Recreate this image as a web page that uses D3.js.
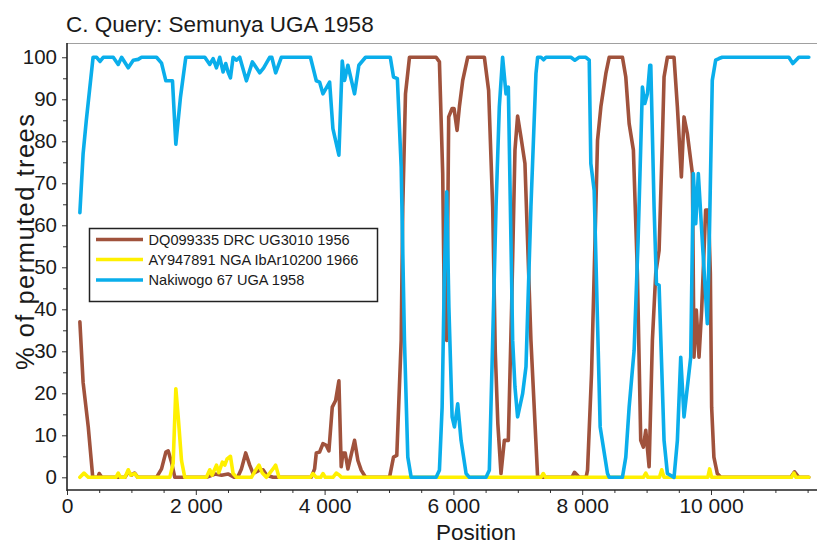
<!DOCTYPE html>
<html><head><meta charset="utf-8">
<script src="https://cdn.jsdelivr.net/npm/d3@7"></script>
<style>
body{margin:0;background:#fff}
svg{display:block}
text{font-family:Arial,"Liberation Sans",Helvetica,sans-serif;fill:#1a1a1a}
</style>
</head><body>
<svg id="chart" width="817" height="544"></svg>
<script>
// ---------- data ----------
const titleText = "C. Query: Semunya UGA 1958";
const xTitle = "Position";
const yTitle = "% of permuted trees";
const seriesNames = ["DQ099335 DRC UG3010 1956", "AY947891 NGA IbAr10200 1966", "Nakiwogo 67 UGA 1958"];
const seriesColors = ["#a0523c", "#fff000", "#0aaeeb"];
const xTickValues = [0, 2000, 4000, 6000, 8000, 10000];
const yTickValues = [0, 10, 20, 30, 40, 50, 60, 70, 80, 90, 100];

// [position, % of permuted trees]
const brownPoints = [[200,37],[250,22.6],[330,12],[400,0],[480,0],[500,0.9],[540,0],[900,0],[950,1.3],[1000,0.5],[1050,1],[1100,0],[1390,0],[1468,2],[1535,6],[1571,6.3],[1623,3.6],[1674,0],[2165,0],[2300,0.8],[2400,0.5],[2500,0.8],[2600,0],[2650,0],[2708,2],[2775,5.8],[2837,2.9],[2889,0.9],[2992,1.7],[3044,1.8],[3100,0.5],[3200,0],[3793,0],[3845,2],[3871,5.8],[3922,6],[3974,8],[4026,7.6],[4067,6.3],[4119,16.7],[4171,18.3],[4222,23],[4258,2.5],[4284,5.8],[4320,5.8],[4362,2],[4465,8.8],[4517,4],[4568,1.7],[4636,0],[5008,0],[5070,4.8],[5121,5.2],[5189,32.6],[5214,64.4],[5256,91.3],[5318,100],[5732,100],[5783,98.9],[5834,72.3],[5860,38.2],[5896,32.6],[5927,85.8],[5980,87.8],[6010,87.8],[6057,82.6],[6093,88.2],[6145,94.5],[6222,100],[6481,100],[6547,92.1],[6610,64.4],[6650,30],[6690,12.8],[6739,0.9],[6791,8.8],[6853,8.8],[6904,40.5],[6956,77.9],[6997,86],[7049,81],[7111,74.7],[7204,32.6],[7308,0],[7840,0],[7880,1.2],[7953,0],[8060,0],[8083,1.7],[8145,24.7],[8186,48.5],[8238,80.2],[8290,88.2],[8367,96.1],[8419,100],[8625,100],[8677,95.3],[8729,84.2],[8795,77.9],[8857,48.5],[8909,8.8],[8950,7.2],[8987,11.2],[9039,2.5],[9090,32.6],[9142,48.5],[9194,54],[9245,80.2],[9271,95.3],[9323,100],[9426,100],[9478,88.2],[9540,71.5],[9581,85.8],[9633,81.8],[9711,72.3],[9736,28.6],[9772,39.8],[9814,28.6],[9855,39.8],[9917,63.6],[9960,63.6],[9990,48.5],[10010,16.7],[10045,4.8],[10098,0.9],[10150,0],[11240,0],[11297,1.3],[11364,0],[11519,0]];

const yellowPoints = [[200,0],[264,1],[330,0],[760,0],[795,1],[830,0],[900,0],[951,1.8],[990,0.5],[1050,0.9],[1100,0],[1597,0],[1648,3.3],[1690,21.1],[1731,13.6],[1778,4],[1829,0],[2165,0],[2217,1.8],[2253,0.5],[2321,2.9],[2357,1.1],[2413,3.6],[2450,2.9],[2486,4.4],[2538,5],[2579,0.9],[2631,0],[2863,0],[2941,2],[2982,2.9],[3033,1],[3096,0],[3199,2],[3240,2.9],[3292,0],[3780,0],[3819,0.9],[3870,0],[3940,0],[3974,0.9],[4010,0],[4130,0],[4181,1],[4230,0.5],[4260,0],[7360,0],[7395,0.9],[7430,0],[8950,0],[8987,1],[9020,0],[9200,0],[9235,1.8],[9270,0],[9950,0],[9979,2],[10010,0],[11250,0],[11287,1],[11320,0],[11519,0]];

const bluePoints = [[200,63],[250,77],[300,85],[405,100],[460,100],[512,99],[563,100],[718,100],[795,98.3],[848,100],[951,97.5],[1029,99.3],[1105,99.5],[1158,100],[1390,100],[1468,98.6],[1535,94.4],[1638,94.4],[1690,79.3],[1762,90.5],[1814,96.5],[1845,100],[2140,100],[2217,98.3],[2269,99.7],[2321,97.5],[2372,100],[2424,96.5],[2465,98.5],[2501,96.5],[2538,95.1],[2579,100],[2631,99.3],[2682,100],[2786,94.4],[2879,98.9],[2992,96.3],[3054,97.5],[3147,100],[3180,100],[3240,96.3],[3328,100],[3780,100],[3871,94.4],[3922,94.1],[3974,91.3],[4078,94.1],[4129,83],[4222,76.7],[4274,99.1],[4310,94.5],[4362,98.1],[4465,91.3],[4532,98.1],[4636,100],[5020,100],[5070,95.3],[5130,94.9],[5189,73.9],[5240,32.6],[5292,4.8],[5344,0],[5732,0],[5783,1.7],[5825,16.7],[5860,48.5],[5896,68],[5930,40.5],[5980,14.4],[6016,12],[6067,17.5],[6119,8.8],[6197,0.9],[6248,0],[6507,0],[6558,1.7],[6610,32.6],[6662,64.4],[6713,88.2],[6764,100],[6817,91.3],[6853,92.9],[6920,32.6],[6956,21.5],[6997,14.4],[7075,19.9],[7127,26.3],[7204,64.4],[7282,96.1],[7308,100],[7360,100],[7400,99.4],[7437,100],[7824,100],[7886,99.3],[7953,100],[8057,100],[8109,99.3],[8134,74.7],[8186,68.3],[8279,12],[8393,0.9],[8419,0],[8625,0],[8677,4.8],[8729,16.7],[8806,30.2],[8868,56.4],[8935,92.9],[8972,89],[9013,91.3],[9050,98.1],[9065,98.1],[9116,64.4],[9153,46.1],[9194,45.7],[9271,8.8],[9323,0.9],[9426,0],[9478,8.8],[9530,28.6],[9581,14.4],[9685,28.6],[9726,72.3],[9763,60.4],[9803,72.3],[9870,55],[9943,36.6],[9969,52.4],[10020,94.5],[10072,99.3],[10124,99.7],[10175,100],[11209,100],[11271,98.5],[11364,100],[11519,100]];

const allSeries = [brownPoints, yellowPoints, bluePoints];

// ---------- layout ----------
const svg = d3.select("#chart");
const mLeft = 67, mRight = 817, mTop = 43, mBottom = 490;

const x = d3.scaleLinear().domain([0, 11646]).range([mLeft, mRight]);
const y = d3.scaleLinear().domain([-3.02, 103.4]).range([mBottom, mTop]);

const fmt = d => d3.format(",")(d).replace(/,/g, " ");

// frame
svg.append("line").attr("x1", mLeft).attr("x2", mRight).attr("y1", mTop + 0.5).attr("y2", mTop + 0.5)
  .attr("stroke", "#a0a0a0").attr("stroke-width", 1.2);

// y axis minor + major ticks
const yMinor = d3.axisLeft(y).tickValues(d3.range(5, 100, 10)).tickSize(4).tickFormat("");
const yMajor = d3.axisLeft(y).tickValues(yTickValues).tickSize(5).tickPadding(5).tickFormat(d => d);
const gy1 = svg.append("g").attr("transform", `translate(${mLeft},0)`).call(yMinor);
const gy2 = svg.append("g").attr("transform", `translate(${mLeft},0)`).call(yMajor);
[gy1, gy2].forEach(g => { g.select(".domain").remove(); g.selectAll("line").attr("stroke", "#333").attr("stroke-width", 1); });
gy2.selectAll("text").style("font-size", "20.5px").attr("fill", "#1a1a1a").style("font-family", "Arial, 'Liberation Sans', sans-serif");

// x axis
const xMinor = d3.axisBottom(x).tickValues(d3.range(500, 11646, 500).filter(v => v % 2000 !== 0)).tickSize(3).tickFormat("");
const xMajor = d3.axisBottom(x).tickValues(xTickValues).tickSize(5).tickPadding(3.5).tickFormat(fmt);
const gx1 = svg.append("g").attr("transform", `translate(0,${mBottom})`).call(xMinor);
const gx2 = svg.append("g").attr("transform", `translate(0,${mBottom})`).call(xMajor);
[gx1, gx2].forEach(g => { g.select(".domain").remove(); g.selectAll("line").attr("stroke", "#333").attr("stroke-width", 1); });
gx2.selectAll("text").style("font-size", "21px").attr("fill", "#1a1a1a").style("font-family", "Arial, 'Liberation Sans', sans-serif");

// axis lines
svg.append("line").attr("x1", mLeft).attr("x2", mLeft).attr("y1", mTop).attr("y2", mBottom + 1)
  .attr("stroke", "#222").attr("stroke-width", 1.6);
svg.append("line").attr("x1", mLeft).attr("x2", mRight).attr("y1", mBottom).attr("y2", mBottom)
  .attr("stroke", "#222").attr("stroke-width", 1.6);

// lines
const line = d3.line().x(d => x(d[0])).y(d => y(d[1]));
const plot = svg.append("g");
allSeries.forEach((pts, i) => {
  plot.append("path").datum(pts).attr("d", line)
    .attr("fill", "none").attr("stroke", seriesColors[i])
    .attr("stroke-width", 3.6).attr("stroke-linejoin", "round").attr("stroke-linecap", "round");
});

// titles
svg.append("text").attr("x", 66).attr("y", 31.5).style("font-size", "22.5px").text(titleText);
svg.append("text").attr("x", 476).attr("y", 540).attr("text-anchor", "middle").style("font-size", "22.5px").text(xTitle);
svg.append("text").attr("transform", "translate(34,242) rotate(-90)").attr("text-anchor", "middle")
  .attr("textLength", 256).attr("lengthAdjust", "spacing")
  .style("font-size", "25.5px").text(yTitle);

// legend
const lg = svg.append("g");
lg.append("rect").attr("x", 89.5).attr("y", 228.5).attr("width", 288).attr("height", 73)
  .attr("fill", "#fff").attr("stroke", "#222").attr("stroke-width", 1.5);
const rowY = [239.5, 259.5, 280];
seriesNames.forEach((name, i) => {
  lg.append("line").attr("x1", 96).attr("x2", 143).attr("y1", rowY[i]).attr("y2", rowY[i])
    .attr("stroke", seriesColors[i]).attr("stroke-width", 3.6);
  lg.append("text").attr("x", 148.5).attr("y", rowY[i] + 5.2).style("font-size", "14.6px").text(name);
});
</script>
</body></html>
